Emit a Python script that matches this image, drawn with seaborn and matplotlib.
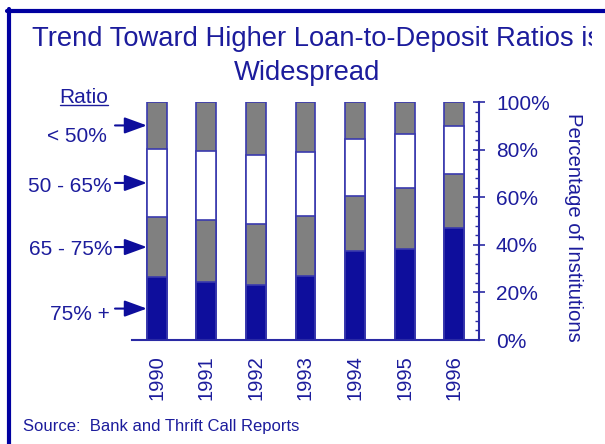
import numpy as np
import pandas as pd
import matplotlib
matplotlib.use('Agg')
import matplotlib.pyplot as plt
import seaborn as sns
from matplotlib.lines import Line2D
from matplotlib.ticker import MultipleLocator, FixedLocator
from matplotlib.transforms import Bbox, TransformedBbox

# ---------------- data ----------------
years = ['1990', '1991', '1992', '1993', '1994', '1995', '1996']
ratio_labels = ['75% +', '65 - 75%', '50 - 65%', '< 50%']
pct_75_plus = [26.4, 24.3, 23.2, 27.1, 37.2, 38.3, 46.9]
pct_65_75 = [25.3, 26.3, 25.7, 25.0, 23.5, 25.7, 22.8]
pct_50_65 = [28.6, 29.0, 29.0, 27.1, 23.6, 22.7, 20.2]
pct_under_50 = [19.7, 20.4, 22.1, 20.8, 15.7, 13.3, 10.1]
y_ticks = [0, 20, 40, 60, 80, 100]
y_tick_labels = ['0%', '20%', '40%', '60%', '80%', '100%']

# ---------------- style ----------------
sns.set_style('white')
plt.rcParams['font.family'] = ['Liberation Sans', 'DejaVu Sans']

TEXT = '#1c1c9c'
BLUE = '#0e0e9c'
GRAY = '#808080'
EDGE = '#3a3aae'
AX = '#2a2aa4'
FRAME = '#0000a0'

W, H = 605, 444
fig = plt.figure(figsize=(W / 100, H / 100), dpi=100)
ax = fig.add_axes([132 / W, (H - 340) / H, (479 - 132) / W, (340 - 102) / H])

segments = [pct_75_plus, pct_65_75, pct_50_65, pct_under_50]
colors = [BLUE, GRAY, 'white', GRAY]
cum = np.cumsum(np.array(segments), axis=0)

for i in range(len(segments) - 1, -1, -1):
    df = pd.DataFrame({'year': years, 'value': cum[i]})
    sns.barplot(data=df, x='year', y='value', order=years, color=colors[i],
                saturation=1, width=0.4, edgecolor=EDGE, linewidth=1.2,
                errorbar=None, ax=ax)

ax.set_xlabel('')
ax.set_ylabel('')
ax.set_xlim(-0.5, len(years) - 0.5)
ax.set_ylim(0, 100)

# x axis
ax.xaxis.set_major_locator(FixedLocator(range(len(years))))
ax.set_xticklabels(years, rotation=90)
ax.xaxis.set_minor_locator(FixedLocator(np.arange(-0.5, len(years), 1.0)))
ax.tick_params(axis='x', which='major', length=0, pad=11, labelsize=14.5,
               labelcolor=TEXT)
ax.tick_params(axis='x', which='minor', direction='inout', length=10,
               width=1.2, color=AX)

# y axis on right
ax.yaxis.tick_right()
ax.set_yticks(y_ticks)
ax.set_yticklabels(y_tick_labels)
ax.yaxis.set_minor_locator(MultipleLocator(4))
ax.tick_params(axis='y', which='major', direction='inout', length=8.6,
               width=1.2, color=AX, labelsize=15, labelcolor=TEXT, pad=7.9)
ax.tick_params(axis='y', which='minor', direction='in', length=3,
               width=1.0, color=AX)

for s in ['left', 'top']:
    ax.spines[s].set_visible(False)
for s in ['right', 'bottom']:
    ax.spines[s].set_color(AX)
    ax.spines[s].set_linewidth(1.5)

# arrows pointing to the 1990 segments
bar_left = -0.2
arrow_start = (115 - 132) / ((479 - 132) / len(years)) - 0.5
bottoms = np.concatenate([[0], cum[:-1, 0]])
mids = (bottoms + cum[:, 0]) / 2
for m in mids:
    ax.annotate('', xy=(bar_left, m), xytext=(arrow_start, m),
                arrowprops=dict(arrowstyle='-|>,head_length=1.37,head_width=0.5',
                                mutation_scale=10, color=BLUE, lw=1.5,
                                shrinkA=0, shrinkB=0),
                annotation_clip=False)

# left legend labels
label_x = [110, 112.7, 111.7, 107.3]
label_base = [320, 255, 191.7, 141.7]
for lab, lx, lb in zip(ratio_labels, label_x, label_base):
    fig.text(lx / W, 1 - lb / H, lab, ha='right', va='baseline',
             fontsize=15, color=TEXT)

fig.text(84 / W, 1 - 102.7 / H, 'Ratio', ha='center', va='baseline',
         fontsize=15, color=TEXT)
fig.add_artist(Line2D([59.5 / W, 108.3 / W], [1 - 105.5 / H, 1 - 105.5 / H],
                      color=TEXT, lw=1.0))

# right axis label
fig.text(574 / W, 1 - 227 / H, 'Percentage of Institutions', rotation=-90,
         ha='center', va='center', fontsize=14.6, color=TEXT)

# title
t1 = fig.text(31.7 / W, 1 - 45.7 / H,
              'Trend Toward Higher Loan-to-Deposit Ratios is',
              ha='left', va='baseline', fontsize=19.7, color=TEXT)
t1.set_clip_box(TransformedBbox(Bbox([[0, 0], [592 / W, 1]]), fig.transFigure))
t1.set_clip_on(True)
fig.text(307.5 / W, 1 - 79.5 / H, 'Widespread', ha='center', va='baseline',
         fontsize=19.7, color=TEXT)

# source
fig.text(23 / W, 1 - 430.7 / H, 'Source:  Bank and Thrift Call Reports',
         ha='left', va='baseline', fontsize=12.0, color=TEXT)

# frame (top and left border)
fig.add_artist(Line2D([9 / W, 9 / W], [0, 1 - 9.3 / H], color=FRAME, lw=3))
fig.add_artist(Line2D([7 / W, 1], [1 - 11 / H, 1 - 11 / H], color=FRAME, lw=3))

fig.savefig('out.png', dpi=100)
